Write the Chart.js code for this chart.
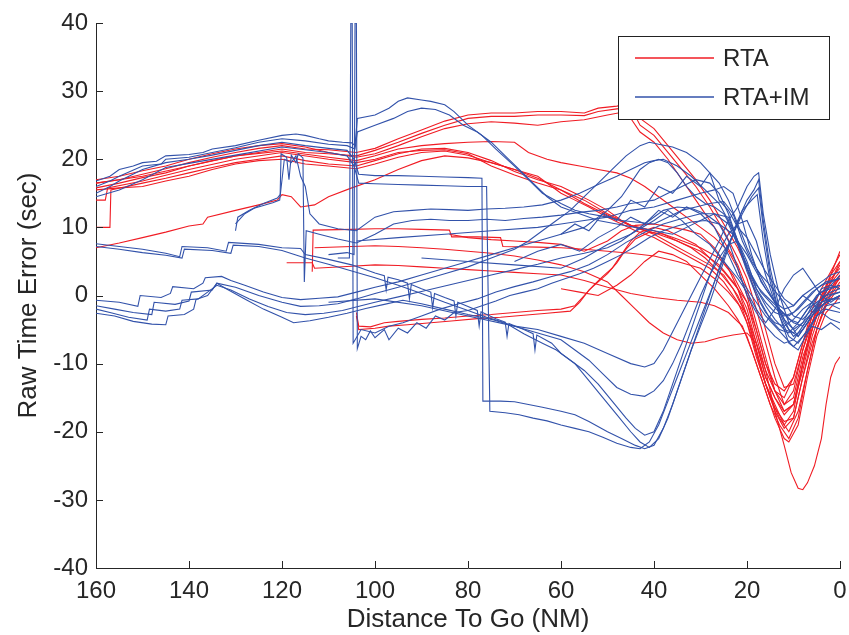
<!DOCTYPE html>
<html lang="en">
<head>
    <meta charset="UTF-8">
    <title>Raw Time Error vs Distance To Go</title>
    <style>
        html, body { margin: 0; padding: 0; background: #fff; }
        #wrap { width: 849px; height: 635px; position: relative; }
    </style>
</head>
<body>
    <div id="wrap"><canvas id="errGraph"></canvas></div>

    <script src="https://cdn.jsdelivr.net/npm/chart.js@4.4.1/dist/chart.umd.min.js"></script>
    <script>

    // [distance to go (NM), raw time error (sec)]
    const rta01 = [[160,16.5],[155,17],[150,17.8],[145,18.6],[140,19.5],[135,20.3],[130,21],[125,21.6],[120,22],[115,21.5],[110,21.4],[104,21],[100,21.6],[95,23],[90,24.3],[85,25.6],[80,26.5],[75,26.8],[70,26.8],[65,27],[60,27],[55,26.8],[52,27.5],[48,27.8],[45,28.2],[43,26],[40,24.5],[37,22],[34,19.5],[31,17],[28,14],[25,10.5],[22,7],[20,4],[18,0],[16,-5],[14,-10],[12,-13.5],[10,-13],[8,-8],[6,-4],[4,-1],[2,2],[0,5]];
    const rta02 = [[160,15.8],[155,16.5],[150,17.3],[145,18],[140,19],[135,19.8],[130,20.5],[125,21],[120,21.5],[115,21],[110,20.8],[104,20.5],[100,21.3],[95,22.5],[90,23.8],[85,25],[80,26],[75,26.3],[70,26.3],[65,26.5],[60,26.5],[55,26.4],[52,27],[48,27.4],[45,27.6],[43,25],[40,23.5],[37,21],[34,18.5],[31,16],[28,13],[25,9.5],[22,5.5],[20,2.5],[18,-2],[16,-7],[14,-12],[12,-16],[10,-15],[8,-9],[6,-5],[4,-1],[2,3],[0,6.5]];
    const rta03 = [[160,17],[155,17.5],[150,18.3],[145,19],[140,20],[135,20.8],[130,21.5],[125,22],[120,22.3],[115,21.8],[110,21],[104,20.3],[100,20.8],[95,22],[90,23.3],[85,24.5],[80,25.2],[75,25.5],[70,25.3],[65,25],[60,25.5],[55,25.8],[50,26.5],[46,27],[43,24],[40,22.5],[37,20],[34,17],[31,14],[28,11],[25,8],[22,4.5],[20,1],[18,-4],[16,-9],[14,-14],[12,-17],[10,-16],[8,-10],[6,-4],[4,0],[2,2.5],[0,4]];
    const rta04 = [[160,10],[157,10],[156.8,15.5],[150,16.5],[145,17.2],[140,18],[135,18.8],[130,19.5],[125,20],[120,20.5],[115,19.8],[110,19.3],[104,19],[100,19.8],[95,20.8],[90,21.5],[85,21.6],[80,21],[75,19.8],[70,18.2],[65,17],[60,16],[57,15],[54,14],[50,12.5],[47,11],[44,10],[40,9],[36,7.5],[32,6],[28,4.5],[25,3],[22,0],[20,-3],[18,-7],[16,-12],[14,-15],[12,-17.5],[10,-16],[8,-11],[6,-5],[4,-1],[2,1],[0,3]];
    const rta05 = [[160,15.5],[155,15.8],[150,16],[145,16.8],[140,17.5],[135,18.5],[130,19.3],[125,19.8],[120,20],[115,19.3],[110,19],[104,18.6],[100,19.3],[95,20.3],[90,21],[85,21.2],[80,20.6],[75,19.5],[70,18.5],[65,17.5],[60,15],[57,14],[54,13],[50,11.5],[47,10.5],[44,9.5],[40,8.5],[36,7],[32,5.5],[28,4],[25,2],[22,-1],[20,-4],[18,-9],[16,-13],[14,-17],[12,-19.5],[10,-18],[8,-12],[6,-7],[4,-3],[2,0],[0,2]];
    const rta06 = [[160,7],[155,7.7],[150,8.5],[145,9.3],[140,10.2],[137,10.5],[136,11.5],[130,12.5],[125,13.3],[121,14],[120,14.8],[118,14.5],[116,13],[113,13.3],[110,14.5],[105,15.8],[100,17],[95,18.5],[90,19.8],[85,20.5],[80,20.2],[75,19.5],[70,18.5],[65,17.2],[60,15.5],[55,13.5],[50,11.8],[45,10.2],[40,9.2],[35,8],[30,6.5],[26,4.5],[23,2],[20,-1],[18,-6],[16,-11],[14,-14],[12,-16],[10,-14],[8,-8],[6,-3],[3,0],[0,2.5]];
    const rta07 = [[160,16.5],[150,17.5],[140,19],[130,20.5],[120,21.2],[110,20.3],[104,19.8],[100,20.5],[95,21.5],[90,22],[85,22.3],[80,22.5],[75,22.6],[70,22.5],[67,21],[63,20],[60,19.5],[56,19],[52,18.5],[48,18],[45,17.2],[42,16],[39,14.5],[36,13],[33,11.5],[30,10],[27,8.5],[24,6.5],[22,4],[20,0],[18,-5],[16,-10],[14,-13],[12,-14],[10,-12],[8,-7],[6,-2],[4,1],[2,3.5],[0,6]];
    const rta08 = [[104,-2.5],[103.5,-4.5],[101,-4.6],[98,-4],[95,-3.8],[90,-3.5],[85,-3.3],[80,-3],[75,-2.8],[70,-2.5],[65,-2.2],[60,-2],[57,-1.5],[55,0],[53,1.5],[51,2.8],[49,4],[47,6],[45,8],[43,9.3],[40,10],[37,9.5],[34,8.5],[31,7.5],[28,5.5],[25,3.5],[22,1],[20,-2],[18,-7],[16,-12],[14,-15],[12,-17],[10,-16],[8,-10],[6,-5],[4,-1],[2,2],[0,4.5]];
    const rta09 = [[104,-3],[103.5,-5],[100,-4.8],[97,-4.5],[93,-4.3],[88,-4],[83,-3.7],[78,-3.4],[73,-3.2],[68,-2.9],[63,-2.6],[58,-2.3],[56,-1],[54,0.8],[52,2],[50,3.2],[48,4.8],[46,6.8],[44,8.3],[41,9.3],[38,9],[35,8],[32,7],[29,5.5],[26,3.5],[23,1],[20,-3],[18,-8],[16,-13],[14,-16.5],[12,-18.5],[10,-18],[8,-12],[6,-6],[4,-2],[2,1],[0,3]];
    const rta10 = [[113.5,3.5],[113.3,9.6],[105,9.7],[100,9.8],[95,9.8],[90,9.7],[84,9.6],[83.5,8.6],[78,8.6],[73,8.5],[72.5,7.2],[65,7.1],[60,7],[55,6.8],[50,6.5],[45,6.2],[40,5.8],[35,5],[30,4],[27,2.5],[24,0.5],[21,-2],[19,-6],[17,-11],[15,-15],[13,-18],[11,-20],[9,-17],[7,-11],[5,-5],[3,-1],[1,1.5],[0,3]];
    const rta11 = [[119,4.8],[113.5,4.8],[113,4],[105,4.3],[100,4.5],[95,4.4],[90,4.2],[85,4],[80,3.8],[75,3.6],[70,3.4],[65,3.2],[60,3],[55,2.2],[50,1.2],[45,0.3],[40,-0.3],[35,-0.7],[30,-1],[27,-1.5],[24,-2.5],[21,-4.5],[19,-8],[17,-12],[15,-16],[13,-19],[11,-21],[9,-18],[7,-11],[5,-5],[3,-1.5],[1,0.5],[0,1.5]];
    const rta12 = [[113,7],[105,7.2],[100,7.3],[95,7.2],[90,7],[85,6.8],[80,6.5],[75,6.2],[70,5.8],[65,5.2],[60,4.5],[55,3.5],[50,2],[47,0],[44,-2],[41,-4],[38,-5.5],[35,-6.5],[32,-7],[29,-6.8],[26,-6.2],[23,-5.8],[20,-5.5],[18,-7],[16,-11],[14,-17],[12,-22],[10.5,-26],[9,-28.3],[8,-28.5],[7,-27.5],[5.5,-25],[4,-21],[3,-16],[2,-12],[1,-10],[0,-9]];
    const rta13 = [[84,9],[80,8.5],[75,8.2],[70,8],[65,7.8],[60,7.5],[55,6.5],[50,8],[47,9.5],[44,10.3],[40,10.5],[36,10],[33,9.6],[30,9],[27,7],[24,4],[22,1],[20,-3],[18,-8],[16,-13],[14,-16],[12,-19],[10,-17],[8,-10],[6,-4],[4,0],[2,3],[0,5]];
    const rta14 = [[160,14],[158,14],[157.5,15.8],[150,16.8],[140,18.5],[130,20],[120,21],[110,20],[104,19.5],[100,20],[95,21],[90,21.3],[85,21.4],[80,20.8],[75,19],[70,17.7],[65,16.5],[60,15.5],[55,14],[50,12],[45,10.3],[40,9.5],[35,8.3],[30,7],[26,5.5],[23,3],[20,-1],[18,-5],[16,-10],[14,-14],[12,-15],[10,-12],[8,-7],[6,-3],[3,1],[0,3.5]];
    const rta15 = [[60,1],[56,0.5],[52,0],[48,1.5],[45,3],[42,5],[39,6.5],[36,6],[33,5],[30,3],[27,1],[24,-1.5],[22,-3.5],[20,-6],[18,-10],[16,-14],[14,-18],[12,-21],[11,-21.5],[9,-19],[7,-12],[5,-6],[3,-2.5],[1,-1],[0,0]];

    const im01 = [[160,16.8],[157,17.5],[155,18.5],[152,19],[150,19.5],[147,19.7],[145,20.5],[140,20.7],[137,21],[135,21.5],[130,22],[125,22.8],[120,23.5],[117,23.7],[115,23.5],[112,23],[110,22.7],[107,22.5],[105,22.4],[104.3,22],[103.8,26],[100,26.5],[97,27.5],[95,28.5],[93,29],[90,28.7],[88,28.5],[85,28],[83,27],[80,25],[77,23.5],[74,21.5],[70,19],[67,17],[64,15],[60,13.5],[57,12.5],[54,12],[50,11.5],[47,11],[44,10.8],[40,10.5],[37,11.5],[34,12.5],[31,13],[28,13.5],[25,13.8],[23,12],[21,8],[19,5],[17,3],[15,1.5],[12,-1],[10,-3],[8,-3.5],[6,-2],[4,-0.5],[2,0.5],[0,1]];
    const im02 = [[160,16],[157,16.8],[155,17.5],[150,19],[146,19.3],[145,20],[140,20.3],[135,21],[130,21.7],[125,22.5],[120,23],[115,22.7],[110,22.2],[106,22],[104.3,21.5],[103.8,24],[100,25],[96,26],[93,27],[90,27.5],[87,27.3],[84,26.5],[81,25],[78,24],[75,22.5],[72,20.5],[69,18.5],[66,16.5],[63,14.5],[60,13],[56,12],[52,11],[48,10.5],[44,10],[40,9.5],[36,9],[33,10],[30,11],[27,12],[24,11.5],[22,8],[20,4],[18,1.5],[16,0],[13,-2],[10,-4],[8,-4.5],[6,-2.5],[4,-0.5],[2,1.5],[0,3]];
    const im03 = [[160,15],[157,16],[155,16.8],[150,18.5],[145,19.5],[140,20],[135,20.6],[130,21.3],[125,22],[120,22.5],[115,22],[110,21.6],[106,21.3],[104.5,20],[103.5,17.8],[100,17.6],[95,17.6],[90,17.5],[85,17.4],[80,17.3],[77,17.2],[76.8,-15.5],[73,-15.5],[70,-15.6],[67,-16],[64,-16.4],[60,-17],[57,-17.5],[54,-18.5],[50,-20],[47,-21],[44,-22],[42,-22.5],[40,-22],[38,-19.5],[36,-16],[34,-12],[32,-8],[30,-4.5],[28,-1],[26,3],[24,7],[22,11],[20,14],[18.5,15.5],[17.5,17],[16.5,11],[15,4],[13,-2],[11,-5],[9,-6],[7,-4],[5,-2],[3,-1],[0,0]];
    const im04 = [[160,14.5],[155,15.5],[150,17],[145,18.8],[140,19.4],[130,20.6],[120,21.8],[110,21],[106,20.5],[104.5,19],[103.5,16.5],[100,16.4],[95,16.3],[90,16.2],[85,16.1],[80,16],[76,16],[75.3,-17],[72,-17.2],[69,-17.5],[66,-18],[63,-18.4],[60,-19],[57,-19.5],[54,-20],[51,-20.8],[48,-21.7],[45,-22.3],[43,-22.5],[41,-21.5],[39,-19],[37,-15.5],[35,-12],[33,-8.5],[31,-5],[29,-1.5],[27,2],[25,5.5],[23,9],[21,12],[19,14.5],[17.5,15.8],[16.5,10],[15,3],[13,-3],[11,-7],[9,-8],[7,-5.5],[5,-3],[3,-2],[0,-2.5]];
    const im05 = [[110,6],[106,6.3],[104.5,6],[104.3,40],[104,40],[103.8,-7.8],[103,-6],[102,-6.5],[101,-5.2],[100,-6.2],[98,-5],[97,-6.5],[95,-4.8],[93,-5.5],[91,-4],[89,-4.8],[87,-3],[85,-3.6],[83,-2.5],[80,-2.2],[77,-1.5],[74,-0.8],[71,0],[68,0.5],[65,1],[62,1.8],[59,2.5],[56,3.2],[53,4],[50,5],[47,6],[44,7.2],[41,8.5],[38,9.5],[35,10.2],[32,10.8],[29,11],[26,10.5],[23,9],[21,6],[19,2],[17,-1],[15,-3.5],[13,-5],[11,-5.5],[9,-4],[7,-2],[5,-1],[3,0],[0,0.5]];
    const im06 = [[108,5.5],[105.5,5.5],[105.2,40],[104.9,40],[104.7,-7],[103,-5],[100,-5.5],[97,-4.5],[94,-4],[90,-3],[86,-2],[82,-1.2],[78,-0.5],[74,0.5],[70,1.3],[66,2],[62,2.8],[58,3.5],[54,4.5],[50,6],[46,7.8],[42,9.3],[38,10.5],[34,11.3],[30,12],[27,12],[24,10.5],[22,7.5],[20,3.5],[18,0],[16,-2.5],[14,-4],[12,-4.5],[10,-3.5],[8,-2],[6,-1],[4,0.5],[2,1],[0,1.5]];
    const im07 = [[160,7.6],[155,7.2],[150,6.8],[145,6.2],[142,5.7],[141.5,7.2],[136,7],[132,6.5],[131.5,7.8],[125,7.5],[120,7],[116,6.9],[115,6],[110,5.3],[105,4.5],[100,3.3],[98,2.9],[97.6,0.8],[97.2,2.7],[95,2.3],[93,1.8],[92.6,-0.5],[92.2,1.6],[90,1],[88,0.5],[87.6,-1.8],[87.2,0.3],[85,-0.3],[83,-0.8],[82.6,-3],[82.2,-1],[80,-1.6],[78,-2.2],[77.6,-4.5],[77.2,-2.4],[74,-3.4],[72,-3.9],[71.6,-6],[71.2,-4.1],[68,-5],[66,-5.6],[65.6,-8],[65.2,-5.8],[62,-7],[60,-8.5],[57,-10],[54,-12.5],[51,-15],[48,-17.5],[45,-20],[43,-21.5],[41,-22.3],[39,-21],[37,-18],[35,-14],[33,-10],[31,-6],[29,-2],[27,2],[25,6],[23,9],[21,12.5],[19,14],[17.8,14.8],[16.5,8],[15,2],[13,-3],[11,-6],[9,-7],[7,-5],[5,-3],[3,-1.5],[0,-1]];
    const im08 = [[160,7.2],[155,6.8],[150,6.3],[145,5.9],[141.5,5.5],[141,6.8],[135,6.6],[131,6.2],[130.5,7.4],[125,7.2],[120,6.6],[115,5.5],[110,4.6],[105,3.6],[100,2.6],[95,1.5],[90,0.3],[85,-1],[80,-2.2],[76,-3.2],[72,-4],[68,-5.6],[64,-7],[61,-8],[58,-9.5],[55,-11],[52,-13],[49,-15.5],[46,-18],[44,-19.5],[42,-20.5],[40,-20],[38,-17],[36,-13],[34,-9],[32,-5],[30,-1],[28,3],[26,6.5],[24,9],[22,10.5],[20,11],[18,8],[16,3],[14,-1],[12,-4],[10,-6],[8,-5],[6,-3],[3,-1],[0,0]];
    const im09 = [[160,-0.7],[155,-1],[151,-1.6],[150.5,0],[146,-0.3],[144,0.3],[143.5,1.3],[139,1],[137,1.8],[136.5,2.6],[133,2.8],[131,2.2],[128,1.5],[124,0.5],[120,-0.3],[116,-0.6],[112,-0.4],[108,-0.2],[104,0.5],[100,1.2],[95,2],[90,3],[85,4],[80,5],[75,6],[70,7],[65,8],[60,9],[55,10],[52,11.5],[50,12.5],[47,14.5],[45,16.5],[43,18.5],[41,19.5],[39,20],[37,19.5],[35,18],[33,16],[31,14.5],[29,13.5],[27,13],[25,12],[23,9.5],[21,6],[19,3],[17,0.5],[15,-1],[13,-2.5],[11,-3],[9,-2],[7,-0.5],[5,1],[3,2],[0,2.5]];
    const im10 = [[160,-1.5],[156,-2],[152,-2.5],[148,-2.8],[147.5,-1],[143,-1.3],[140,-0.8],[139.5,0.5],[135,0.8],[134,1.8],[130,1.2],[125,0],[120,-1],[116,-1.6],[112,-1.5],[108,-1.2],[104,-0.5],[100,0.3],[95,1.2],[90,2.2],[85,3.2],[80,4.2],[75,5.5],[70,6.8],[67,8],[64,9.5],[61,11],[58,12.5],[55,14.5],[52,16.5],[49,18.5],[46,20.5],[43,22],[41,22.5],[39,22.2],[36,21.8],[33,21],[30,19.5],[28,18],[26,16.5],[24,14],[22,10.5],[20,7],[18,4],[16,1.5],[14,-1],[12,-3.5],[10,-5],[8,-4],[6,-1.5],[4,1],[2,1.5],[0,1]];
    const im11 = [[160,-2],[157,-2.5],[153,-3.2],[149,-3.6],[148.5,-2],[145,-2.3],[142,-2],[141.5,-0.7],[138,-0.5],[136,0.5],[134,1.5],[131,0.8],[127,-0.5],[123,-1.6],[119,-2.5],[115,-2.8],[111,-2.6],[107,-2.2],[103,-1.5],[100,-1],[95,-0.2],[90,0.6],[85,1.4],[80,2.2],[75,3],[70,3.8],[65,4.6],[60,5.5],[55,6.2],[50,7],[47,8],[44,9.5],[41,11],[38,12.5],[35,13],[32,12.8],[29,12],[26,10.5],[24,8],[22,4],[20,0],[18,-2.5],[16,-4.5],[14,-6],[12,-7],[10,-6.5],[8,-4.5],[6,-2.5],[4,-1],[2,-0.5],[0,-0.5]];
    const im12 = [[160,-2.6],[156,-3],[152,-3.8],[148,-4.2],[145,-4.3],[144.5,-3],[141,-2.8],[139,-2],[138.5,-0.6],[136,0],[134,1.8],[132,1],[128,-0.5],[124,-2],[120,-3.2],[117.5,-4],[114,-3.7],[110,-3.2],[106,-2.6],[102,-1.9],[98,-1.3],[94,-0.7],[90,-1.2],[85,-2],[80,-2.8],[75,-3.5],[70,-4.5],[65,-5.5],[60,-6.5],[57,-8],[54,-9.5],[51,-11.5],[48,-13.5],[45,-14.5],[42,-14.8],[40,-14],[38,-12.5],[36,-10],[34,-7],[32,-3.5],[30,0],[28,3],[26,5.5],[24,7.5],[22,8],[20,5],[18,1],[16,-1.5],[14,-3.5],[12,-5],[10,-5.5],[8,-4],[6,-2.5],[4,-1],[2,0],[0,0.5]];
    const im13 = [[130,9.5],[129.5,11.5],[127,12.5],[124,13.5],[121,14.3],[120.4,14.8],[120.2,20.8],[119,20.3],[118.5,17],[118,20.6],[117,19.5],[116.5,20.8],[115.5,20.2],[115.2,2],[114.8,9.5],[112,9],[108,8.3],[104,7.7],[100,9],[96,10.5],[92,11],[88,11.2],[84,11],[80,11],[76,11.2],[72,11],[68,11.3],[64,11.5],[60,11.8],[56,12.2],[52,12.5],[48,13],[45,13.5],[42,13.8],[40,14],[37,15],[34,16],[31,17],[28,16.5],[26,15],[24,12],[22,8],[20,4],[18,1],[16,-1],[14,-2.5],[12,-3],[10,-2.5],[8,-1],[6,0.5],[4,1.5],[2,2],[0,2.5]];
    const im14 = [[130,10.5],[128,12],[126,12.8],[122,13.6],[120.5,14],[120,17],[119.5,20],[118,19.5],[117,20.5],[116,17.5],[115,16],[114,12],[112,10.5],[108,9.8],[104,9.5],[100,11.5],[96,12.3],[92,12.5],[88,12.7],[84,12.6],[80,12.5],[76,12.7],[72,12.8],[68,13],[64,13.3],[60,14],[56,15],[52,16.3],[48,17.5],[45,18.5],[42,19.5],[40,19.8],[38,20],[35,19],[32,17.5],[29,15.5],[26,13.5],[24,11],[22,8],[20,6],[18,3.5],[16,1],[14,-1],[12,-2],[10,-1.5],[8,0],[6,1],[4,2],[2,3],[0,3.5]];
    const im15 = [[104,8],[95,8.5],[85,9],[75,9.5],[65,10],[60,10.5],[55,11],[50,11.5],[45,12.5],[40,13],[35,14],[30,15],[27,15.5],[25,16],[23,15],[21,11],[19,6],[17,2],[15,0],[13,-2],[11,-3.5],[9,-4],[7,-2],[5,0],[3,1],[0,1.5]];
    const im16 = [[110,-1],[100,-0.5],[90,-1.5],[80,-3],[70,-4.5],[65,-5],[60,-6],[55,-7],[50,-8.5],[45,-10],[42,-10.5],[40,-10],[38,-8],[35,-4],[32,0],[29,4],[26,8],[24,11],[22,13],[20,16],[18.5,17.5],[17.5,18],[16.5,12],[15,6],[13,0],[11,-4],[9,-6],[7,-4],[5,-2],[3,-1],[0,-2]];
    const im17 = [[60,9],[57,10.5],[54,9.5],[51,12],[48,11],[45,14],[42,13],[39,16],[36,15],[33,17.5],[30,16],[28,18],[26,14],[24,12.5],[22,10],[20,8.5],[18,6],[16,3.5],[14,1.5],[12,-0.5],[10,-1.5],[8,0],[6,-1],[4,-2.5],[2,-3.5],[0,-4]];
    const im18 = [[70,5],[65,6.5],[60,7.5],[56,6.5],[52,8.5],[48,10],[45,11.5],[42,10.5],[39,12.5],[36,11.5],[33,13],[30,12],[27,10],[24,6],[22,3],[20,1],[18,-1],[16,-3],[14,-4.5],[12,-6],[10,-7.5],[8,-6],[6,-4.5],[4,-5],[2,-4],[0,-5]];
    const im19 = [[90,5.5],[80,5],[70,4.5],[60,4],[55,5.5],[50,7.5],[45,9],[40,11],[37,12.5],[34,11],[31,9],[28,7.5],[25,5],[22,2.5],[20,0.5],[18,-2],[16,-4],[14,-2],[12,1],[10,3],[8,4],[6,2],[4,0],[2,-1],[0,0]];

    const rtaRuns = [rta01, rta02, rta03, rta04, rta05, rta06, rta07, rta08, rta09, rta10, rta11, rta12, rta13, rta14, rta15];
    const imRuns = [im01, im02, im03, im04, im05, im06, im07, im08, im09, im10, im11, im12, im13, im14, im15, im16, im17, im18, im19];

    const legendLabels = ["RTA", "RTA+IM"];
    const xTicks = [0, 20, 40, 60, 80, 100, 120, 140, 160];
    const yTicks = [-40, -30, -20, -10, 0, 10, 20, 30, 40];

    const RED = "rgb(240, 28, 36)";
    const BLUE = "rgb(50, 82, 170)";
    const FONT = "'Liberation Sans', Arial, sans-serif";
    const INK = "#262626";

    function toSet(run, color) {
        return {
            data: run.map(p => ({x: p[0], y: p[1]})),
            borderColor: color,
            borderWidth: 1.1,
            pointRadius: 0,
            tension: 0,
            fill: false
        };
    }

    const datasets = imRuns.map(r => toSet(r, BLUE)).concat(rtaRuns.map(r => toSet(r, RED)));

    // MATLAB style ticks pointing into the axes
    const innerTicks = {
        id: "innerTicks",
        afterDraw(chart) {
            const ctx = chart.ctx;
            const a = chart.chartArea;
            const xs = chart.scales.x, ys = chart.scales.y;
            ctx.save();
            ctx.strokeStyle = INK;
            ctx.lineWidth = 1;
            ctx.beginPath();
            xTicks.forEach(t => {
                const px = Math.round(xs.getPixelForValue(t)) + 0.5;
                ctx.moveTo(px, a.bottom);
                ctx.lineTo(px, a.bottom - 7);
            });
            yTicks.forEach(t => {
                const py = Math.round(ys.getPixelForValue(t)) + 0.5;
                ctx.moveTo(a.left, py);
                ctx.lineTo(a.left + 7, py);
            });
            ctx.stroke();
            ctx.restore();
        }
    };

    // boxed legend in the upper right corner
    const boxLegend = {
        id: "boxLegend",
        afterDraw(chart) {
            const ctx = chart.ctx;
            const bx = 618.5, by = 36.5, bw = 211, bh = 83;
            ctx.save();
            ctx.fillStyle = "#fff";
            ctx.fillRect(bx, by, bw, bh);
            ctx.strokeStyle = "#222";
            ctx.lineWidth = 1;
            ctx.strokeRect(bx, by, bw, bh);
            const rows = [[legendLabels[0], RED, 58], [legendLabels[1], BLUE, 97]];
            ctx.font = "24px " + FONT;
            ctx.textBaseline = "middle";
            ctx.textAlign = "left";
            rows.forEach(([label, color, y]) => {
                ctx.strokeStyle = color;
                ctx.lineWidth = 1.3;
                ctx.beginPath();
                ctx.moveTo(635, y);
                ctx.lineTo(714, y);
                ctx.stroke();
                ctx.fillStyle = INK;
                ctx.fillText(label, 723, y + 1);
            });
            ctx.restore();
        }
    };

    new Chart(document.getElementById("errGraph"), {
        type: "line",
        data: { datasets: datasets },
        options: {
            responsive: true,
            maintainAspectRatio: false,
            animation: false,
            layout: { padding: { top: 23, right: 9, left: 0, bottom: 0 } },
            plugins: {
                legend: { display: false },
                tooltip: { enabled: false }
            },
            scales: {
                x: {
                    type: "linear",
                    reverse: true,
                    min: 0,
                    max: 160,
                    afterFit(scale) { scale.height = 67; },
                    afterBuildTicks(scale) { scale.ticks = xTicks.map(v => ({value: v})); },
                    grid: { drawOnChartArea: false, drawTicks: false },
                    border: { display: true, color: INK, width: 1 },
                    ticks: { color: INK, padding: 9, maxRotation: 0, font: { family: FONT, size: 24 } },
                    title: {
                        display: true,
                        text: "Distance To Go (NM)",
                        color: INK,
                        font: { family: FONT, size: 26 },
                        padding: { top: 0, bottom: 0 }
                    }
                },
                y: {
                    type: "linear",
                    min: -40,
                    max: 40,
                    afterFit(scale) { scale.width = 96; },
                    afterBuildTicks(scale) { scale.ticks = yTicks.map(v => ({value: v})); },
                    grid: { drawOnChartArea: false, drawTicks: false },
                    border: { display: true, color: INK, width: 1 },
                    ticks: { color: INK, padding: 8, font: { family: FONT, size: 24 } },
                    title: {
                        display: true,
                        text: "Raw Time Error (sec)",
                        color: INK,
                        font: { family: FONT, size: 26 },
                        padding: { top: 13, bottom: 0 }
                    }
                }
            }
        },
        plugins: [innerTicks, boxLegend]
    });

    </script>
</body>
</html>
